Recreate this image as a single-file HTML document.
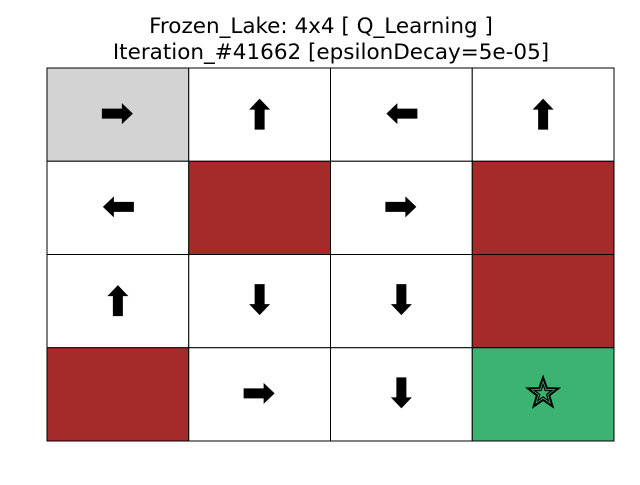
<!DOCTYPE html>
<html><head><meta charset="utf-8"><style>
body{margin:0;background:#fff;}
svg text{font-family:"DejaVu Sans","Liberation Sans",sans-serif;}
</style></head><body>
<svg width="640" height="480">
<text x="321" y="33" font-size="21.5" text-anchor="middle">Frozen_Lake: 4x4 [ Q_Learning ]</text>
<text x="331" y="59" font-size="21.5" text-anchor="middle">Iteration_#41662 [epsilonDecay=5e-05]</text>
<g id="grid"></g>
</svg>
<script>
const cellTypes = [["S","F","F","F"],["F","H","F","H"],["F","F","F","H"],["H","F","F","G"]];
const actions = [["R","U","L","U"],["L","","R",""],["U","D","D",""],["","R","D",""]];
const x0=47,y0=68,W=567,H=373,cw=W/4,ch=H/4;
const colors={S:"#d3d3d3",F:"#ffffff",H:"#a52a2a",G:"#3cb371"};
const angles={R:0,D:90,L:180,U:270};
const g=document.getElementById('grid');
const NS="http://www.w3.org/2000/svg";
for(let r=0;r<4;r++)for(let c=0;c<4;c++){
  const rect=document.createElementNS(NS,'rect');
  rect.setAttribute('x',x0+c*cw);rect.setAttribute('y',y0+r*ch);
  rect.setAttribute('width',cw);rect.setAttribute('height',ch);
  rect.setAttribute('fill',colors[cellTypes[r][c]]);
  rect.setAttribute('stroke','#000');rect.setAttribute('stroke-width','1');
  
  
  g.appendChild(rect);
  const cx=x0+c*cw+cw/2, cy=y0+r*ch+ch/2-1;
  const a=actions[r][c];
  if(a){
    const p=document.createElementNS(NS,'polygon');
    p.setAttribute('points','-16,-5 4,-5 4,-10.5 15,0 4,10.5 4,5 -16,5');
    p.setAttribute('fill','#000');
    p.setAttribute('transform','translate('+cx+','+cy+') rotate('+angles[a]+')');
    
    
    g.appendChild(p);
  }
  if(cellTypes[r][c]==="G"){
    let pts=[];
    for(let i=0;i<10;i++){const rr=i%2?6.5:16;const t=-Math.PI/2+i*Math.PI/5;pts.push((cx+rr*Math.cos(t)).toFixed(1)+','+(cy+rr*Math.sin(t)).toFixed(1));}
    const s=document.createElementNS(NS,'polygon');
    s.setAttribute('points',pts.join(' '));
    s.setAttribute('fill','none');s.setAttribute('stroke','#000');s.setAttribute('stroke-width','2');
    
    
    g.appendChild(s);
    const s2=document.createElementNS(NS,'polygon');
    let pts2=[];
    for(let i=0;i<10;i++){const rr=i%2?3.5:9;const t=-Math.PI/2+i*Math.PI/5;pts2.push((cx+rr*Math.cos(t)).toFixed(1)+','+(cy+rr*Math.sin(t)).toFixed(1));}
    s2.setAttribute('points',pts2.join(' '));
    s2.setAttribute('fill','none');s2.setAttribute('stroke','#000');s2.setAttribute('stroke-width','1.2');
    
    
    g.appendChild(s2);
  }
}
</script>
</body></html>
